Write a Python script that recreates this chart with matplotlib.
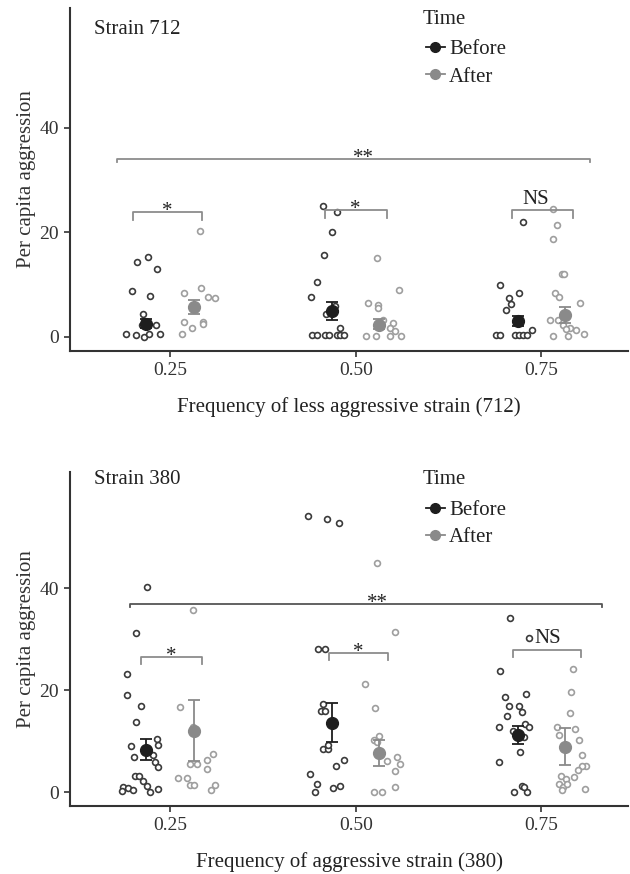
import matplotlib.pyplot as plt
from matplotlib.lines import Line2D

plt.rcParams['font.family'] = ['Liberation Serif', 'DejaVu Serif']
plt.rcParams['font.size'] = 14

# Group positions (frequency) and dodge between Before / After
freqs = [0.25, 0.50, 0.75]
tick_labels = ["0.25", "0.50", "0.75"]
dodge = 0.032

# ---- Strain 712 (top panel): raw points, x jittered positions and values ----
s712_before_x = [0.2051, 0.2199, 0.2321, 0.1988, 0.2230, 0.2140, 0.2119, 0.2307, 0.1903, 0.2038, 0.2154, 0.2221, 0.2365, 0.2150,
                 0.4558, 0.4751, 0.4679, 0.4571, 0.4485, 0.4404, 0.4724, 0.4602, 0.4782, 0.4418, 0.4477, 0.4585, 0.4643, 0.4747, 0.4791, 0.4836,
                 0.7257, 0.6938, 0.7194, 0.7059, 0.7092, 0.7028, 0.7375, 0.6894, 0.6947, 0.7149, 0.7194, 0.7248, 0.7307]
s712_before_y = [14.2, 15.2, 12.9, 8.7, 7.8, 4.3, 2.2, 2.2, 0.5, 0.3, 0.0, 0.5, 0.5, 3.0,
                 25.0, 23.9, 20.0, 15.7, 10.4, 7.6, 5.9, 4.3, 1.7, 0.4, 0.4, 0.4, 0.4, 0.4, 0.4, 0.4,
                 21.9, 9.8, 8.3, 7.3, 6.2, 5.1, 1.2, 0.3, 0.3, 0.3, 0.3, 0.3, 0.3]
s712_after_x = [0.2904, 0.2918, 0.2693, 0.3008, 0.3111, 0.2693, 0.2796, 0.2949, 0.2949, 0.2666,
                0.5286, 0.5586, 0.5168, 0.5303, 0.5303, 0.5509, 0.5367, 0.5465, 0.5536, 0.5137, 0.5272, 0.5465, 0.5609,
                0.7658, 0.7712, 0.7658, 0.7779, 0.7810, 0.7685, 0.7739, 0.7621, 0.7729, 0.7792, 0.7891, 0.7972, 0.7828,
                0.7658, 0.7854, 0.8025, 0.8080]
s712_after_y = [20.3, 9.4, 8.3, 7.5, 7.3, 2.8, 1.7, 2.8, 2.4, 0.5,
                15.0, 8.9, 6.4, 6.0, 5.4, 2.7, 3.2, 1.7, 1.0, 0.2, 0.2, 0.2, 0.2,
                24.4, 21.4, 18.6, 11.9, 11.9, 8.3, 7.6, 3.2, 3.2, 2.2, 1.7, 1.2, 1.5,
                0.2, 0.2, 6.4, 0.5]
s712_before_mean = [2.4, 4.9, 2.9]
s712_before_lo = [1.6, 3.2, 2.0]
s712_before_hi = [3.3, 6.6, 3.9]
s712_after_mean = [5.7, 2.2, 4.1]
s712_after_lo = [4.3, 1.5, 2.6]
s712_after_hi = [7.0, 3.3, 5.7]

# ---- Strain 380 (bottom panel) ----
s380_before_x = [0.2190, 0.2042, 0.1920, 0.1920, 0.2113, 0.2042, 0.2325, 0.2338, 0.1978, 0.2015, 0.2267, 0.2298, 0.2338,
                 0.2032, 0.2086, 0.2132, 0.2194, 0.1871, 0.1930, 0.1997, 0.1857, 0.2235, 0.2342,
                 0.4360, 0.4616, 0.4774, 0.4491, 0.4589, 0.4553, 0.4536, 0.4589, 0.4566, 0.4633, 0.4625, 0.4849, 0.4737,
                 0.4387, 0.4477, 0.4454, 0.4701, 0.4791,
                 0.7082, 0.7329, 0.6938, 0.7015, 0.7298, 0.7065, 0.7194, 0.7038, 0.7235, 0.6930, 0.7284, 0.7329, 0.7113,
                 0.7261, 0.7217, 0.6925, 0.7127, 0.7240, 0.7307, 0.7261]
s380_before_y = [40.2, 31.3, 23.2, 19.1, 16.9, 13.8, 10.4, 9.3, 9.1, 6.8, 7.3, 5.8, 4.9,
                 3.2, 3.2, 2.1, 1.2, 1.0, 0.8, 0.3, 0.2, 0.0, 0.5,
                 54.2, 53.6, 52.8, 28.2, 28.2, 17.2, 15.9, 15.9, 8.5, 8.5, 9.2, 6.2, 5.1,
                 3.6, 1.6, 0.0, 0.8, 1.2,
                 34.2, 30.2, 23.7, 18.7, 19.2, 16.9, 16.9, 14.9, 15.8, 12.8, 13.3, 12.7, 12.0,
                 10.8, 7.9, 5.9, 0.0, 1.2, 0.0, 1.0]
s380_after_x = [0.2814, 0.2639, 0.2814, 0.2774, 0.2868, 0.3075, 0.2999, 0.2999, 0.2608, 0.2729, 0.2770, 0.2823, 0.3106, 0.3049,
                0.5286, 0.5532, 0.5119, 0.5259, 0.5317, 0.5253, 0.5286, 0.5420, 0.5559, 0.5600, 0.5536, 0.5523, 0.5249, 0.5361,
                0.7927, 0.7900, 0.7881, 0.7712, 0.7738, 0.7958, 0.8003, 0.8048, 0.8106, 0.8048, 0.7995, 0.7945, 0.7765,
                0.7837, 0.7738, 0.7792, 0.7846, 0.7779, 0.8084]
s380_after_y = [35.7, 16.7, 12.7, 5.6, 5.6, 7.5, 6.2, 4.6, 2.7, 2.7, 1.3, 1.4, 1.4, 0.3,
                45.0, 31.5, 21.3, 16.5, 11.0, 10.2, 9.8, 6.1, 6.8, 5.6, 4.1, 1.0, 0.0, 0.0,
                24.1, 19.7, 15.5, 12.8, 11.3, 12.3, 10.2, 7.2, 5.1, 5.1, 4.4, 3.0, 3.2,
                2.5, 1.5, 0.9, 1.6, 0.4, 0.6]
s380_before_mean = [8.2, 13.5, 11.3]
s380_before_lo = [6.2, 9.8, 9.5]
s380_before_hi = [10.4, 17.5, 13.0]
s380_after_mean = [12.0, 7.6, 8.9]
s380_after_lo = [6.1, 5.1, 5.3]
s380_after_hi = [18.0, 10.2, 12.6]

# significance brackets: (x0, x1, y, label, label_x)
s712_brackets = [(0.179, 0.815, 34.0, "**", 0.511),
                 (0.200, 0.293, 23.8, "*", 0.2465),
                 (0.458, 0.542, 24.2, "*", 0.500),
                 (0.710, 0.793, 24.2, "NS", 0.742)]
s380_brackets = [(0.196, 0.832, 36.9, "**", 0.529),
                 (0.211, 0.293, 26.5, "*", 0.252),
                 (0.464, 0.544, 27.3, "*", 0.504),
                 (0.712, 0.804, 28.0, "NS", 0.758)]

C_BEFORE = "#1e1e1e"
C_AFTER = "#8a8a8a"
PT_BEFORE = "#3a3a3a"
PT_AFTER = "#9e9e9e"
AXC = "#333333"


def draw_panel(ax, bx, by, axx, ay, bm, blo, bhi, am, alo, ahi, brackets, strain, xlabel, big_col,
               strain_y, title_y, leg_y):
    ax.plot(bx, by, 'o', ms=4.2, mfc='white', mec=PT_BEFORE, mew=1.2, ls='none', zorder=2)
    ax.plot(axx, ay, 'o', ms=4.2, mfc='white', mec=PT_AFTER, mew=1.2, ls='none', zorder=2)

    xb = [f - dodge for f in freqs]
    xa = [f + dodge for f in freqs]
    ax.errorbar(xb, bm, yerr=[[m - l for m, l in zip(bm, blo)], [h - m for m, h in zip(bm, bhi)]],
                fmt='o', color=C_BEFORE, ms=8.5, capsize=4.5, elinewidth=1.3, capthick=1.3, zorder=4)
    ax.errorbar(xa, am, yerr=[[m - l for m, l in zip(am, alo)], [h - m for m, h in zip(am, ahi)]],
                fmt='o', color=C_AFTER, ms=8.5, capsize=4.5, elinewidth=1.3, capthick=1.3, zorder=4)

    for i, (x0, x1, y, lab, lx) in enumerate(brackets):
        tick = 0.6 if i == 0 else 1.4
        col = big_col if i == 0 else "#8c8c8c"
        ax.plot([x0, x0, x1, x1], [y - tick, y, y, y - tick], color=col, lw=1.3, zorder=3)
        if lab == "NS":
            ax.text(lx, y + 0.3, lab, ha='center', va='bottom', fontsize=15, color="#222222")
        else:
            ax.text(lx, y - 1.7, lab, ha='center', va='bottom', fontsize=15, color="#222222")

    ax.set_xlim(0.1152, 0.867)
    ax.set_ylim(-2.75, 62.9)
    ax.set_xticks(freqs)
    ax.set_xticklabels(tick_labels)
    ax.set_yticks([0, 20, 40])
    for s in ['top', 'right']:
        ax.spines[s].set_visible(False)
    for s in ['left', 'bottom']:
        ax.spines[s].set_color(AXC)
        ax.spines[s].set_linewidth(1.5)
    ax.tick_params(length=4, width=1.2, color=AXC, labelcolor="#333333", labelsize=14, pad=4)
    ax.set_ylabel("Per capita aggression", fontsize=15, color="#333333")
    ax.yaxis.set_label_coords(-0.061, 0.5)
    ax.set_xlabel(xlabel, fontsize=15, color="#222222", labelpad=13)
    ax.text(0.043, strain_y, strain, transform=ax.transAxes, ha='left', va='center', fontsize=15, color="#222222")

    ax.text(0.631, title_y, "Time", transform=ax.transAxes, ha='left', va='center', fontsize=15, color="#222222")
    handles = [Line2D([0], [0], color=C_BEFORE, marker='o', ms=7, lw=1.3),
               Line2D([0], [0], color=C_AFTER, marker='o', ms=7, lw=1.3)]
    leg = ax.legend(handles, ["Before", "After"], loc='upper left',
                    bbox_to_anchor=(0.638, leg_y), frameon=False, fontsize=15,
                    borderpad=0, borderaxespad=0,
                    handlelength=0.9, handletextpad=0.2, labelspacing=0.38)
    for t in leg.get_texts():
        t.set_color("#222222")


fig = plt.figure(figsize=(6.3, 8.74), dpi=100)
ax1 = fig.add_axes([0.1111, 0.5984, 0.886, 0.3924])
ax2 = fig.add_axes([0.1111, 0.0778, 0.886, 0.3822])

draw_panel(ax1, s712_before_x, s712_before_y, s712_after_x, s712_after_y,
           s712_before_mean, s712_before_lo, s712_before_hi,
           s712_after_mean, s712_after_lo, s712_after_hi,
           s712_brackets, "Strain 712", "Frequency of less aggressive strain (712)", "#8c8c8c",
           0.937, 0.968, 0.908)
draw_panel(ax2, s380_before_x, s380_before_y, s380_after_x, s380_after_y,
           s380_before_mean, s380_before_lo, s380_before_hi,
           s380_after_mean, s380_after_lo, s380_after_hi,
           s380_brackets, "Strain 380", "Frequency of aggressive strain (380)", "#555555",
           0.976, 0.976, 0.915)

fig.savefig("out.png", dpi=100)
